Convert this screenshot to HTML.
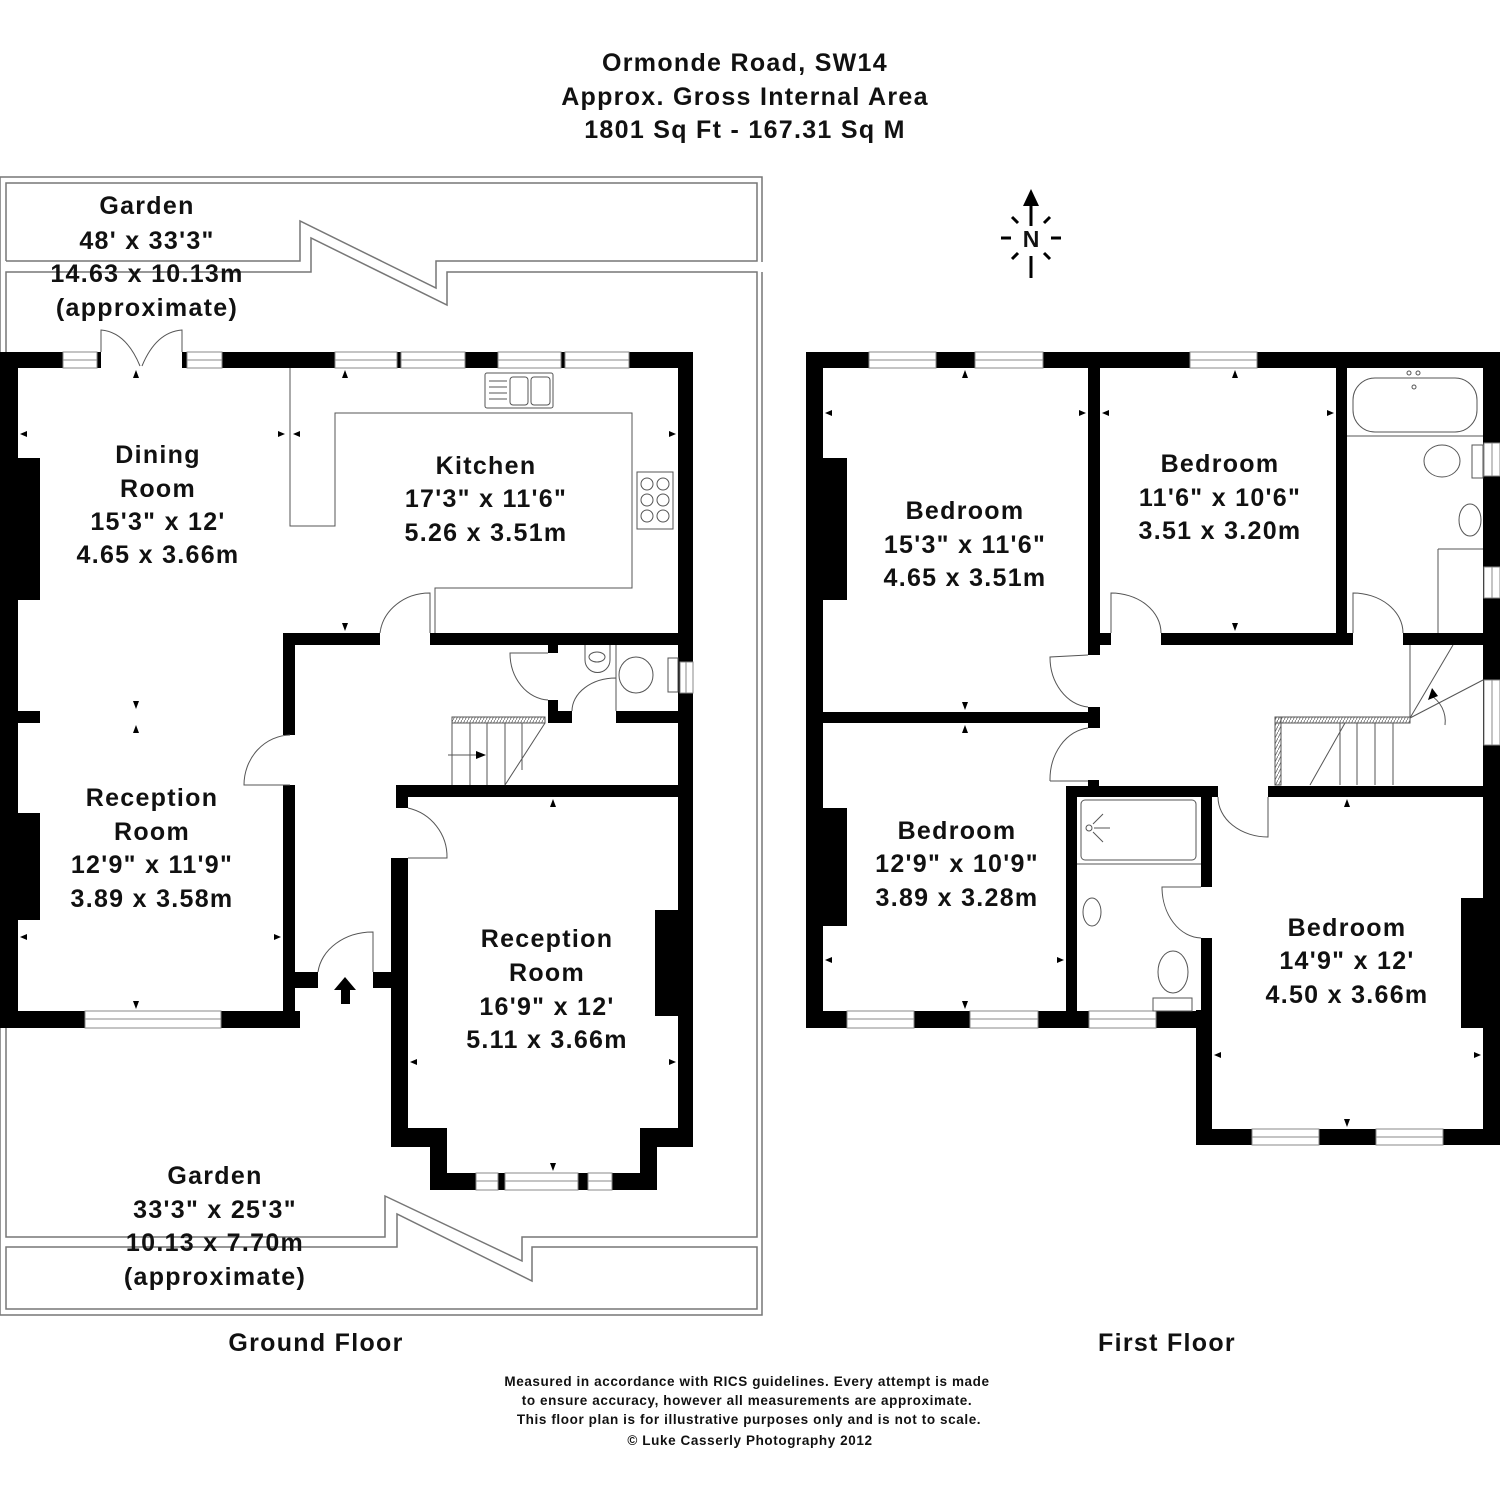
<!DOCTYPE html>
<html><head><meta charset="utf-8"><style>
html,body{margin:0;padding:0;background:#fff;}
svg{display:block}
text{font-family:"Liberation Sans","DejaVu Sans",sans-serif;fill:#111;}
.lbl{font-size:25px;font-weight:bold;letter-spacing:1.3px;text-anchor:middle;dominant-baseline:central;}
.ft{font-size:13.5px;font-weight:bold;letter-spacing:0.6px;text-anchor:middle;}
.w{fill:#000}
.g{fill:none;stroke:#777;stroke-width:1.5}
.t{fill:none;stroke:#555;stroke-width:1}
.win{fill:#fff;stroke:#888;stroke-width:1}
</style></head><body>
<svg width="1500" height="1500" viewBox="0 0 1500 1500" xmlns="http://www.w3.org/2000/svg">
<defs><pattern id="hatch" width="3" height="6" patternUnits="userSpaceOnUse"><line x1="0" y1="6" x2="3" y2="0" stroke="#666" stroke-width="0.8"/></pattern></defs>
<!-- Title -->
<text class="lbl" x="745" y="63">Ormonde Road, SW14</text>
<text class="lbl" x="745" y="97">Approx. Gross Internal Area</text>
<text class="lbl" x="745" y="130">1801 Sq Ft  -  167.31 Sq M</text>

<!-- Garden outlines -->
<g class="g">
<path d="M0,177 L762,177 L762,262"/>
<path d="M6,261 L6,183 L757,183 L757,261 L436,261 L436,288 L300,221 L300,261 L6,261"/>
<path d="M0,177 L0,1315 L762,1315 L762,272"/>
<path d="M6,272 L311,272 L311,238 L447,305 L447,272 L757,272 L757,1237 L522,1237 L522,1261 L385,1196 L385,1237 L6,1237 Z"/>
<path d="M6,1247 L397,1247 L397,1214 L532,1281 L532,1247 L757,1247 L757,1309 L6,1309 Z"/>
</g>

<!-- ================= GROUND FLOOR ================= -->
<g class="w">
<rect x="0" y="352" width="63" height="16"/>
<rect x="97" y="352" width="4" height="16"/>
<rect x="182" y="352" width="5" height="16"/>
<rect x="222" y="352" width="113" height="16"/>
<rect x="397" y="352" width="4" height="16"/>
<rect x="465" y="352" width="33" height="16"/>
<rect x="561" y="352" width="4" height="16"/>
<rect x="629" y="352" width="64" height="16"/>
<rect x="0" y="352" width="18" height="676"/>
<rect x="18" y="458" width="22" height="142"/>
<rect x="18" y="813" width="22" height="107"/>
<rect x="18" y="711" width="22" height="12"/>
<rect x="0" y="1011" width="85" height="17"/>
<rect x="221" y="1011" width="79" height="17"/>
<rect x="283" y="633" width="12" height="102"/>
<rect x="283" y="785" width="12" height="243"/>
<rect x="295" y="972" width="23" height="16"/>
<rect x="373" y="972" width="22" height="16"/>
<rect x="283" y="633" width="97" height="12"/>
<rect x="430" y="633" width="263" height="12"/>
<rect x="678" y="352" width="15" height="795"/>
<rect x="548" y="645" width="10" height="8"/>
<rect x="548" y="700" width="10" height="23"/>
<rect x="548" y="711" width="24" height="12"/>
<rect x="616" y="711" width="64" height="12"/>
<rect x="396" y="785" width="297" height="12"/>
<rect x="396" y="785" width="12" height="23"/>
<rect x="391" y="858" width="17" height="289"/>
<rect x="391" y="1128" width="56" height="19"/>
<rect x="430" y="1128" width="17" height="62"/>
<rect x="430" y="1173" width="46" height="17"/>
<rect x="498" y="1173" width="7" height="17"/>
<rect x="578" y="1173" width="10" height="17"/>
<rect x="612" y="1173" width="45" height="17"/>
<rect x="640" y="1128" width="17" height="62"/>
<rect x="640" y="1128" width="53" height="19"/>
<rect x="655" y="910" width="23" height="106"/>
</g>
<g class="win">
<rect x="63" y="352" width="34" height="16"/><line x1="63" y1="360" x2="97" y2="360"/>
<rect x="187" y="352" width="35" height="16"/><line x1="187" y1="360" x2="222" y2="360"/>
<rect x="335" y="352" width="62" height="16"/><line x1="335" y1="360" x2="397" y2="360"/>
<rect x="401" y="352" width="64" height="16"/><line x1="401" y1="360" x2="465" y2="360"/>
<rect x="498" y="352" width="63" height="16"/><line x1="498" y1="360" x2="561" y2="360"/>
<rect x="565" y="352" width="64" height="16"/><line x1="565" y1="360" x2="629" y2="360"/>
<rect x="85" y="1011" width="136" height="17"/><line x1="85" y1="1019" x2="221" y2="1019"/>
<rect x="476" y="1173" width="22" height="17"/><line x1="476" y1="1181" x2="498" y2="1181"/>
<rect x="505" y="1173" width="73" height="17"/><line x1="505" y1="1181" x2="578" y2="1181"/>
<rect x="588" y="1173" width="24" height="17"/><line x1="588" y1="1181" x2="612" y2="1181"/>
<rect x="680" y="662" width="13" height="31"/><line x1="686" y1="662" x2="686" y2="693"/>
</g>
<g class="t">
<path d="M290,368 L290,526 L335,526 L335,413 L632,413 L632,588 L435,588 L435,633"/>
<path d="M101,352 L101,330 Q126,332 140,366"/>
<path d="M182,352 L182,330 Q156,332 142,366"/>
<path d="M430,633 L430,593 A50,45 0 0 0 380,633"/>
<path d="M290,785 L244,785 A47,50 0 0 1 290,735"/>
<path d="M408,858 L447,858 A50,50 0 0 0 408,808"/>
<path d="M373,972 L373,932 A55,45 0 0 0 318,972"/>
<path d="M548,653 L510,653 A40,47 0 0 0 548,700"/>
<path d="M616,711 L616,678 A44,33 0 0 0 572,711"/>
<rect x="485" y="373" width="68" height="35" rx="2"/>
<rect x="510" y="377" width="18" height="28" rx="3"/>
<rect x="531" y="377" width="19" height="28" rx="3"/>
<line x1="489" y1="381" x2="507" y2="381"/><line x1="489" y1="387" x2="507" y2="387"/><line x1="489" y1="393" x2="507" y2="393"/><line x1="489" y1="399" x2="507" y2="399"/>
<rect x="637" y="472" width="36" height="57"/>
<circle cx="647" cy="484" r="6"/><circle cx="663" cy="484" r="6"/>
<circle cx="647" cy="500" r="6"/><circle cx="663" cy="500" r="6"/>
<circle cx="647" cy="516" r="6"/><circle cx="663" cy="516" r="6"/>
<path d="M585,645 L585,660 A12,12 0 0 0 610,660 L610,645"/>
<ellipse cx="597" cy="657" rx="8" ry="5"/>
<ellipse cx="636" cy="675" rx="17" ry="18"/>
<rect x="668" y="658" width="10" height="34"/>
<line x1="616" y1="645" x2="616" y2="711"/>
<rect x="452" y="717" width="93" height="6" fill="url(#hatch)"/>
<line x1="452" y1="723" x2="452" y2="785"/><line x1="470" y1="723" x2="470" y2="785"/>
<line x1="487" y1="723" x2="487" y2="785"/><line x1="505" y1="723" x2="505" y2="785"/>
<line x1="522" y1="723" x2="522" y2="770"/>
<line x1="545" y1="723" x2="505" y2="785"/>
<line x1="448" y1="755" x2="478" y2="755"/>
</g>
<polygon points="486,755 476,751 476,759" fill="#000"/>
<polygon points="345,977 334,990 341,990 341,1004 350,1004 350,990 356,990" fill="#000"/>
<g fill="#000">
<polygon points="136,370 133,378 139,378"/><polygon points="345,370 342,378 348,378"/>
<polygon points="20,434 27,431 27,437"/><polygon points="285,434 278,431 278,437"/>
<polygon points="293,434 300,431 300,437"/><polygon points="676,434 669,431 669,437"/>
<polygon points="345,631 342,623 348,623"/>
<polygon points="136,709 133,701 139,701"/><polygon points="136,725 133,733 139,733"/>
<polygon points="20,937 27,934 27,940"/><polygon points="281,937 274,934 274,940"/>
<polygon points="136,1009 133,1001 139,1001"/>
<polygon points="553,799 550,807 556,807"/>
<polygon points="410,1062 417,1059 417,1065"/><polygon points="676,1062 669,1059 669,1065"/>
<polygon points="553,1171 550,1163 556,1163"/>
</g>

<!-- ================= FIRST FLOOR ================= -->
<g class="w">
<rect x="806" y="352" width="63" height="16"/>
<rect x="936" y="352" width="39" height="16"/>
<rect x="1043" y="352" width="147" height="16"/>
<rect x="1257" y="352" width="243" height="16"/>
<rect x="806" y="352" width="17" height="676"/>
<rect x="1483" y="352" width="17" height="793"/>
<rect x="823" y="458" width="24" height="142"/>
<rect x="823" y="808" width="24" height="118"/>
<rect x="1088" y="368" width="12" height="287"/>
<rect x="1088" y="707" width="12" height="21"/>
<rect x="823" y="712" width="267" height="11"/>
<rect x="1099" y="633" width="12" height="12"/>
<rect x="1161" y="633" width="192" height="12"/>
<rect x="1403" y="633" width="97" height="12"/>
<rect x="1336" y="368" width="11" height="265"/>
<rect x="1066" y="786" width="11" height="242"/>
<rect x="1066" y="786" width="152" height="11"/>
<rect x="1088" y="780" width="11" height="8"/>
<rect x="1201" y="786" width="11" height="101"/>
<rect x="1201" y="938" width="11" height="90"/>
<rect x="1196" y="1010" width="16" height="135"/>
<rect x="806" y="1011" width="41" height="17"/>
<rect x="914" y="1011" width="56" height="17"/>
<rect x="1038" y="1011" width="51" height="17"/>
<rect x="1156" y="1011" width="56" height="17"/>
<rect x="1268" y="786" width="232" height="11"/>
<rect x="1196" y="1129" width="56" height="16"/>
<rect x="1319" y="1129" width="57" height="16"/>
<rect x="1443" y="1129" width="57" height="16"/>
<rect x="1461" y="898" width="22" height="130"/>
</g>
<g class="win">
<rect x="869" y="352" width="67" height="16"/><line x1="869" y1="360" x2="936" y2="360"/>
<rect x="975" y="352" width="68" height="16"/><line x1="975" y1="360" x2="1043" y2="360"/>
<rect x="1190" y="352" width="67" height="16"/><line x1="1190" y1="360" x2="1257" y2="360"/>
<rect x="1484" y="443" width="16" height="33"/><line x1="1492" y1="443" x2="1492" y2="476"/>
<rect x="1484" y="567" width="16" height="31"/><line x1="1492" y1="567" x2="1492" y2="598"/>
<rect x="1484" y="680" width="16" height="65"/><line x1="1492" y1="680" x2="1492" y2="745"/>
<rect x="847" y="1011" width="67" height="17"/><line x1="847" y1="1019" x2="914" y2="1019"/>
<rect x="970" y="1011" width="68" height="17"/><line x1="970" y1="1019" x2="1038" y2="1019"/>
<rect x="1089" y="1011" width="67" height="17"/><line x1="1089" y1="1019" x2="1156" y2="1019"/>
<rect x="1252" y="1129" width="67" height="16"/><line x1="1252" y1="1137" x2="1319" y2="1137"/>
<rect x="1376" y="1129" width="67" height="16"/><line x1="1376" y1="1137" x2="1443" y2="1137"/>
</g>
<g class="t">
<path d="M1088,655 L1050,657 A42,50 0 0 0 1088,707"/>
<path d="M1050,781 L1088,781 M1050,781 A42,52 0 0 1 1088,728"/>
<path d="M1111,633 L1111,593 A50,40 0 0 1 1161,633"/>
<path d="M1353,633 L1353,593 A50,40 0 0 1 1403,633"/>
<path d="M1268,797 L1268,837 A50,40 0 0 1 1218,797"/>
<path d="M1201,887 L1162,887 A40,51 0 0 0 1201,938"/>
<rect x="1353" y="378" width="124" height="54" rx="22"/>
<circle cx="1409" cy="373" r="2"/><circle cx="1418" cy="373" r="2"/><circle cx="1414" cy="387" r="2"/>
<line x1="1347" y1="436" x2="1483" y2="436"/>
<ellipse cx="1442" cy="461" rx="18" ry="16"/>
<rect x="1472" y="445" width="11" height="33"/>
<ellipse cx="1470" cy="520" rx="11" ry="16"/>
<line x1="1438" y1="549" x2="1483" y2="549"/><line x1="1438" y1="549" x2="1438" y2="633"/>
<line x1="1410" y1="645" x2="1410" y2="718"/>
<line x1="1410" y1="718" x2="1453" y2="645"/>
<line x1="1410" y1="718" x2="1483" y2="680"/>
<path d="M1430,695 A30,30 0 0 1 1445,725"/>
<rect x="1275" y="717" width="135" height="6" fill="url(#hatch)"/>
<rect x="1275" y="717" width="6" height="68" fill="url(#hatch)"/>
<line x1="1340" y1="723" x2="1340" y2="785"/><line x1="1357" y1="723" x2="1357" y2="785"/>
<line x1="1375" y1="723" x2="1375" y2="785"/><line x1="1393" y1="723" x2="1393" y2="785"/>
<line x1="1345" y1="723" x2="1310" y2="785"/>
<rect x="1081" y="800" width="115" height="60" rx="4"/>
<line x1="1077" y1="864" x2="1201" y2="864"/>
<circle cx="1089" cy="828" r="3"/>
<line x1="1094" y1="828" x2="1110" y2="828"/><line x1="1093" y1="824" x2="1103" y2="814"/><line x1="1093" y1="832" x2="1103" y2="842"/>
<ellipse cx="1092" cy="912" rx="9" ry="14"/>
<ellipse cx="1173" cy="972" rx="15" ry="21"/>
<rect x="1153" y="998" width="39" height="13"/>
</g>
<polygon points="1432,688 1428,700 1438,696" fill="#000"/>
<g fill="#000">
<polygon points="965,370 962,378 968,378"/><polygon points="1235,370 1232,378 1238,378"/>
<polygon points="825,413 832,410 832,416"/><polygon points="1086,413 1079,410 1079,416"/>
<polygon points="1102,413 1109,410 1109,416"/><polygon points="1334,413 1327,410 1327,416"/>
<polygon points="1235,631 1232,623 1238,623"/>
<polygon points="965,710 962,702 968,702"/><polygon points="965,725 962,733 968,733"/>
<polygon points="825,960 832,957 832,963"/><polygon points="1064,960 1057,957 1057,963"/>
<polygon points="965,1009 962,1001 968,1001"/>
<polygon points="1347,799 1344,807 1350,807"/>
<polygon points="1214,1055 1221,1052 1221,1058"/><polygon points="1481,1055 1474,1052 1474,1058"/>
<polygon points="1347,1127 1344,1119 1350,1119"/>
</g>

<!-- North arrow -->
<g stroke="#000" stroke-width="3">
<line x1="1031" y1="226" x2="1031" y2="204"/>
<line x1="1031" y1="256" x2="1031" y2="278"/>
<line x1="1001" y1="238" x2="1011" y2="238"/><line x1="1051" y1="238" x2="1061" y2="238"/>
<line x1="1012" y1="217" x2="1018" y2="223"/><line x1="1050" y1="217" x2="1044" y2="223"/>
<line x1="1012" y1="259" x2="1018" y2="253"/><line x1="1050" y1="259" x2="1044" y2="253"/>
</g>
<polygon points="1031,189 1023,206 1039,206" fill="#000"/>
<text class="lbl" x="1031" y="239" style="font-size:23px;letter-spacing:0">N</text>

<!-- Room labels -->
<text class="lbl" x="147" y="206">Garden</text>
<text class="lbl" x="147" y="241">48' x 33'3"</text>
<text class="lbl" x="147" y="274">14.63 x 10.13m</text>
<text class="lbl" x="147" y="308">(approximate)</text>

<text class="lbl" x="158" y="455">Dining</text>
<text class="lbl" x="158" y="489">Room</text>
<text class="lbl" x="158" y="522">15'3" x 12'</text>
<text class="lbl" x="158" y="555">4.65 x 3.66m</text>

<text class="lbl" x="486" y="466">Kitchen</text>
<text class="lbl" x="486" y="499">17'3" x 11'6"</text>
<text class="lbl" x="486" y="533">5.26 x 3.51m</text>

<text class="lbl" x="152" y="798">Reception</text>
<text class="lbl" x="152" y="832">Room</text>
<text class="lbl" x="152" y="865">12'9" x 11'9"</text>
<text class="lbl" x="152" y="899">3.89 x 3.58m</text>

<text class="lbl" x="547" y="939">Reception</text>
<text class="lbl" x="547" y="973">Room</text>
<text class="lbl" x="547" y="1007">16'9" x 12'</text>
<text class="lbl" x="547" y="1040">5.11 x 3.66m</text>

<text class="lbl" x="215" y="1176">Garden</text>
<text class="lbl" x="215" y="1210">33'3" x 25'3"</text>
<text class="lbl" x="215" y="1243">10.13 x 7.70m</text>
<text class="lbl" x="215" y="1277">(approximate)</text>

<text class="lbl" x="965" y="511">Bedroom</text>
<text class="lbl" x="965" y="545">15'3" x 11'6"</text>
<text class="lbl" x="965" y="578">4.65 x 3.51m</text>

<text class="lbl" x="1220" y="464">Bedroom</text>
<text class="lbl" x="1220" y="498">11'6" x 10'6"</text>
<text class="lbl" x="1220" y="531">3.51 x 3.20m</text>

<text class="lbl" x="957" y="831">Bedroom</text>
<text class="lbl" x="957" y="864">12'9" x 10'9"</text>
<text class="lbl" x="957" y="898">3.89 x 3.28m</text>

<text class="lbl" x="1347" y="928">Bedroom</text>
<text class="lbl" x="1347" y="961">14'9" x 12'</text>
<text class="lbl" x="1347" y="995">4.50 x 3.66m</text>

<text class="lbl" x="316" y="1343">Ground Floor</text>
<text class="lbl" x="1167" y="1343">First Floor</text>

<text class="ft" x="747" y="1386">Measured in accordance with RICS guidelines. Every attempt is made</text>
<text class="ft" x="747" y="1405">to ensure accuracy, however all measurements are approximate.</text>
<text class="ft" x="749" y="1424">This floor plan is for illustrative purposes only and is not to scale.</text>
<text class="ft" x="750" y="1445">© Luke Casserly Photography 2012</text>
</svg>
</body></html>
